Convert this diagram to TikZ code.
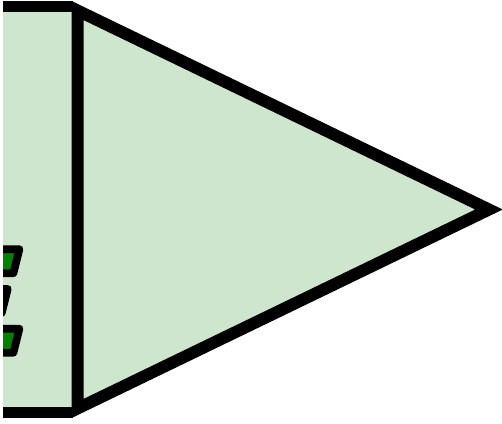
\documentclass[tikz,border=0pt]{standalone}
\definecolor{panelgreen}{RGB}{205,230,205}
\definecolor{markgreen}{RGB}{0,128,0}
\tikzset{
  px/.style={x=1pt,y=-1pt},
  outline/.style={draw=black,line width=12pt},
  slot/.style={draw=black,fill=markgreen,line width=7.8pt,line join=round},
}
\begin{document}
\begin{tikzpicture}[px]
\useasboundingbox (0,0) rectangle (502,423);
\fill[panelgreen] (3,6.5) rectangle (77.5,412);
\begin{scope}
\clip (3,0) rectangle (502,423);
\draw[slot] (-10,249.2) -- (19.4,249.2) -- (13.4,273.2) -- (-10,273.2) -- cycle;
\draw[slot] (-21.7,288.9) -- (7.7,288.9) -- (1.7,312.9) -- (-21.7,312.9) -- cycle;
\draw[slot] (-10,328.7) -- (19.4,328.7) -- (13.4,352.7) -- (-10,352.7) -- cycle;
\draw[outline,line width=11.2pt] (3,6.6) -- (73,6.6);
\draw[outline,line width=11.2pt] (3,412.4) -- (73,412.4);
\end{scope}
\draw[outline,fill=panelgreen,line join=miter,miter limit=10] (77.5,10.5) -- (489,209.5) -- (77.5,408.5) -- cycle;
\end{tikzpicture}
\end{document}
